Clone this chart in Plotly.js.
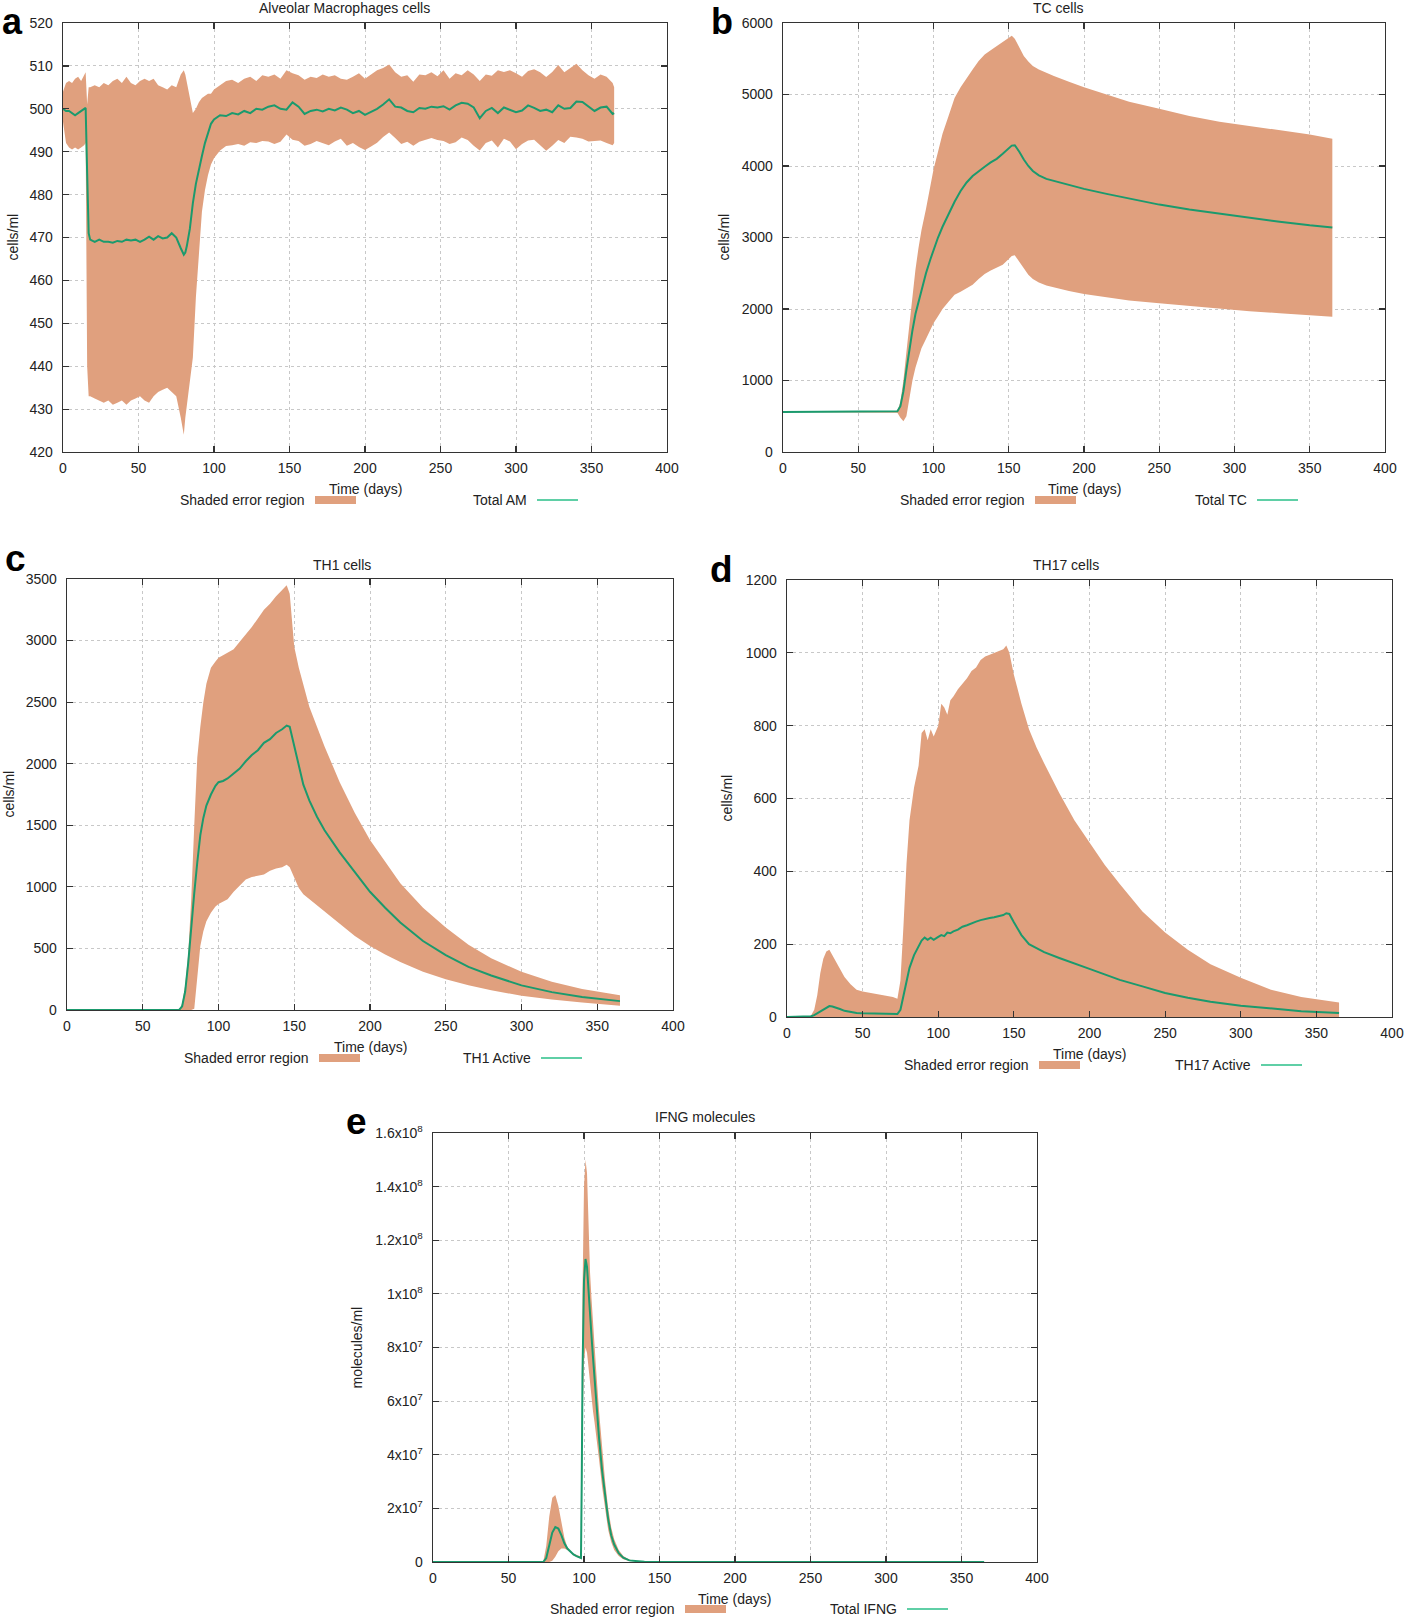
<!DOCTYPE html>
<html><head><meta charset="utf-8">
<script src="https://cdn.plot.ly/plotly-3.0.1.min.js"></script>
<style>html,body{margin:0;padding:0;background:#fff}#chart{width:1416px;height:1619px}</style>
</head><body><div id="chart"></div>
<script>
// ---------- Panel a: Alveolar Macrophages ----------
const amDays = [0,2,4,6,8,10,12,14,15,16,17,
 18,21,24,27,30,33,36,39,42,45,48,51,54,57,60,63,66,69,72,75,78,
 80,81,82,84,86,88,90,92,94,96,98,100,
 104,108,112,116,120,124,128,132,136,140,144,148,152,156,160,164,168,172,176,180,184,188,192,196,200,204,208,212,216,220,224,228,232,236,240,244,248,252,256,260,264,268,272,276,280,284,288,292,296,300,304,308,312,316,320,324,328,332,336,340,344,348,352,356,360,364,365];
const amMean = [500,499.5,499.5,499,498.5,499,499.5,500,500.2,485,471,
 469.5,469,469.5,469,469,468.8,469.2,469,469.5,469.3,469.5,469,469.5,470.2,469.5,470.3,469.8,470,471,470,467.5,
 466,466.5,468,472,478,482.5,486,489,492,494.5,496.5,497.5,
 498.5,498.3,499,498.7,499.5,499,500,499.8,500.5,500.8,500,499.8,501.5,500.5,498.8,499.5,499.8,499.4,500,499.6,500.3,499.8,499,499.5,498.6,499.3,500,501,502.2,500.5,500.3,499.5,499.2,500.2,500,500.5,500.3,500.6,499.8,500.8,501.4,501.2,500.3,497.8,499.5,500.2,499,500.3,499.8,499.2,499.6,500.8,500.2,499.5,499.8,499.2,500.8,500,500.2,501.7,501.6,500.6,499.5,500.3,500.5,498.8,499];
const amUpper = [504,506,506.5,506,507,507.5,506.5,508,508.5,501,505,
 505,505.5,505,506,505.5,506.5,507,506,507.5,506,505.5,506.5,507,506.5,507,505.5,505,504.5,505.5,505,508,
 509,508,506,502,499,500,501.5,502.5,503,503.5,503.5,504.5,
 505.5,506.5,506.8,506,507,507.5,506.5,507.8,507.5,508,507,509,508.3,507.8,506.8,507.5,507.2,508,507.5,507.8,507,506.8,507.5,508.3,507,508,509,509.5,510.3,508.5,507.5,507.8,506.3,508,507.8,508.5,507.6,509,507,508.3,507.8,509,508,506.5,508,507.7,509,508.6,509,508.3,507.5,508.8,509.2,508.5,507.4,508.6,510.2,508.5,509.5,510.5,509,507.8,507,508,507.5,506,505];
const amLower = [497,492,491,490.5,491,490.5,491,491.5,492,440,433,
 433,432.5,432,431.5,432,431,431.5,432,431,432,432.5,433,432,431.5,433,434,434.5,435,434,433,428,
 424,428,431,436,442,456,467,476,481,484.5,487,488.5,
 490.3,491.3,491.5,491.8,491.4,492.2,492,492.5,492.4,491.8,492.3,494,492.8,492.5,491.4,491.8,492.5,492,491.5,492.4,493,491.4,492,491.1,490.4,491.2,492.1,493.4,494.5,493.2,491.8,492.3,491.4,492.3,492.8,493.2,492.7,492.5,491.8,492.2,493.3,492.7,491.4,490.3,492,492.6,491,493,492.4,490.6,491.8,492.6,492.8,491.5,490.2,491.4,492.7,492,493.5,493.3,493,492.4,492.5,492.6,492,491.5,492];

// ---------- Panel b: TC cells ----------
const tcDays = [0,25,50,75,76,78,80,82,84,86,88,90,92,95,98,100,103,106,110,114,118,122,126,130,134,138,142,146,150,152,154,157,160,163,166,170,175,180,190,200,215,230,250,270,290,310,330,350,365];
const tcMean = [560,560,560,560,570,640,850,1150,1450,1700,1930,2100,2250,2500,2700,2830,3000,3150,3330,3500,3650,3770,3860,3930,3990,4050,4100,4170,4250,4285,4290,4200,4090,4000,3930,3870,3820,3790,3740,3680,3610,3545,3460,3390,3330,3270,3220,3170,3140];
const tcUpper = [560,560,560,560,570,700,1000,1400,1800,2200,2550,2850,3100,3400,3750,3950,4200,4450,4700,4950,5100,5230,5350,5470,5560,5620,5680,5730,5790,5820,5780,5650,5540,5460,5400,5350,5300,5260,5180,5100,5000,4900,4800,4700,4620,4560,4500,4440,4380];
const tcLower = [560,560,560,560,550,480,430,500,750,1000,1180,1330,1450,1580,1720,1800,1900,2000,2100,2200,2240,2290,2340,2420,2490,2540,2580,2620,2700,2740,2750,2660,2570,2480,2420,2370,2330,2300,2250,2210,2160,2120,2080,2040,2010,1970,1940,1910,1890];

// ---------- Panel c: TH1 cells ----------
const th1Days = [0,50,74,76,78,80,82,84,86,88,90,92,95,98,100,103,106,110,114,118,122,126,130,134,138,142,145,147,150,153,156,160,165,170,180,190,200,210,220,235,250,265,280,300,320,340,365];
const th1Mean = [0,0,0,30,150,380,700,950,1200,1420,1560,1660,1750,1820,1850,1860,1880,1920,1960,2020,2070,2110,2170,2200,2250,2280,2310,2300,2150,1980,1830,1700,1570,1460,1280,1120,960,830,710,560,445,350,280,200,145,105,72];
const th1Upper = [0,0,0,50,200,450,900,1500,2050,2300,2500,2650,2780,2830,2860,2880,2900,2930,2990,3050,3110,3180,3250,3300,3360,3410,3450,3380,2950,2780,2640,2460,2300,2140,1850,1600,1380,1200,1030,830,670,530,420,310,230,170,120];
const th1Lower = [0,0,0,0,0,0,0,10,300,520,640,720,790,840,860,880,900,960,1010,1060,1080,1090,1100,1130,1150,1160,1180,1160,1070,990,940,900,850,800,700,600,520,450,390,310,250,200,160,115,85,60,35];

// ---------- Panel d: TH17 cells (lower bound at 0) ----------
const th17Days = [0,14,16,18,20,22,24,26,28,30,32,35,38,42,46,50,55,60,65,70,73,75,77,79,81,84,87,89,91,93,95,97,100,102,104,106,108,110,113,116,119,122,125,128,131,134,137,140,143,145,147,150,155,160,165,170,180,190,200,210,220,235,250,265,280,300,320,340,365];
const th17Mean = [0,0,2,5,10,15,20,26,30,29,27,22,17,13,11,10,10,9,8,8,8,20,60,100,135,170,195,210,218,212,218,212,220,225,222,232,230,235,240,248,252,258,262,266,270,272,274,278,280,285,283,260,225,200,188,178,162,146,132,117,102,84,66,53,42,31,23,16,11];
const th17Upper = [0,0,5,20,60,120,160,180,185,170,155,130,110,90,75,70,66,63,60,55,50,100,250,420,540,630,690,780,790,760,790,770,800,860,850,830,870,880,900,915,930,950,960,980,990,995,1000,1005,1010,1020,1000,940,860,790,740,697,615,540,478,418,365,290,232,185,145,108,75,55,40];

// ---------- Panel e: IFNG molecules ----------
const ifngDays = [0,50,73,75,77,79,81,83,85,87,89,91,93,95,97,98,98.5,99,100,101,102,103,104,105,106,107,108,110,112,114,116,118,120,123,126,130,135,140,150,200,300,365];
const ifngMean = [0,0,0,1.5e6,6e6,1.1e7,1.3e7,1.25e7,1e7,7e6,5e6,3.8e6,2.8e6,2.2e6,1.7e6,1.5e6,3e7,7e7,1.05e8,1.13e8,1.1e8,1e8,9.2e7,8.4e7,7.6e7,6.8e7,6e7,4.6e7,3.4e7,2.4e7,1.6e7,1e7,6.5e6,3.3e6,1.6e6,6e5,2e5,5e4,0,0,0,0];
const ifngUpper = [0,0,0,6e6,1.7e7,2.4e7,2.5e7,2.1e7,1.5e7,9e6,5.5e6,4e6,3.2e6,2.6e6,2.2e6,2e6,4e7,1e8,1.4e8,1.5e8,1.45e8,1.25e8,1.08e8,9.8e7,8.8e7,8e7,7.2e7,5.6e7,4.2e7,3e7,2e7,1.3e7,8.5e6,4.5e6,2.2e6,9e5,3e5,1e5,0,0,0,0];
const ifngLower = [0,0,0,0,0,5e5,2e6,4e6,5e6,5e6,4.5e6,3.5e6,2.5e6,2e6,1.5e6,1.2e6,2e7,5e7,7.5e7,8e7,7.8e7,7.2e7,6.6e7,6e7,5.6e7,5.2e7,4.8e7,3.8e7,2.8e7,1.9e7,1.2e7,7.5e6,4.5e6,2.2e6,1e6,4e5,1e5,0,0,0,0,0];

// ---------- Tick labels ----------
const xTicks = [0,50,100,150,200,250,300,350,400];
const ifngTickVals = [0,2e7,4e7,6e7,8e7,1e8,1.2e8,1.4e8,1.6e8];
const ifngTickText = ['0','2x10<sup>7</sup>','4x10<sup>7</sup>','6x10<sup>7</sup>','8x10<sup>7</sup>','1x10<sup>8</sup>','1.2x10<sup>8</sup>','1.4x10<sup>8</sup>','1.6x10<sup>8</sup>'];

// ---------- Layout helpers ----------
const W = 1416, H = 1619;
const FILL = '#e0a07e', LINE = '#1b9a6d', LEGLINE = '#5fcfa6';
const FONT = 'Liberation Sans, Arial, Helvetica, sans-serif';
const px = v => v / W, py = v => 1 - v / H;

const panels = [
  {k:'', letter:'a', title:'Alveolar Macrophages cells', ytitle:'cells/ml', lineName:'Total AM',
   box:[63,667,23,452], titleXY:[344,8], letterXY:[12,0], letterTop:true, ytitleX:12, timeY:489, legY:500,
   x:amDays, lo:amLower, up:amUpper, mean:amMean, yr:[420,520], dtick:10},
  {k:'2', letter:'b', title:'TC cells', ytitle:'cells/ml', lineName:'Total TC',
   box:[783,1385,23,452], titleXY:[1058,8], letterXY:[722,0], letterTop:true, ytitleX:723, timeY:489, legY:500,
   x:tcDays, lo:tcLower, up:tcUpper, mean:tcMean, yr:[0,6000], dtick:1000},
  {k:'3', letter:'c', title:'TH1 cells', ytitle:'cells/ml', lineName:'TH1 Active',
   box:[67,673,579,1010], titleXY:[342,565], letterXY:[15,559], ytitleX:8, timeY:1047, legY:1058,
   x:th1Days, lo:th1Lower, up:th1Upper, mean:th1Mean, yr:[0,3500], dtick:500},
  {k:'4', letter:'d', title:'TH17 cells', ytitle:'cells/ml', lineName:'TH17 Active',
   box:[787,1392,580,1017], titleXY:[1066,565], letterXY:[721,569], ytitleX:726, timeY:1054, legY:1065,
   x:th17Days, lo:null, up:th17Upper, mean:th17Mean, yr:[0,1200], dtick:200},
  {k:'5', letter:'e', title:'IFNG molecules', ytitle:'molecules/ml', lineName:'Total IFNG',
   box:[433,1037,1133,1562], titleXY:[705,1117], letterXY:[356,1121], ytitleX:356, timeY:1599, legY:1609,
   x:ifngDays, lo:ifngLower, up:ifngUpper, mean:ifngMean, yr:[0,1.6e8], tickvals:ifngTickVals, ticktext:ifngTickText}
];

const traces = [];
const layout = {
  width: W, height: H, margin:{l:0,r:0,t:0,b:0},
  paper_bgcolor:'#fff', plot_bgcolor:'#fff', showlegend:false,
  font:{family:FONT, size:14, color:'#222'},
  annotations:[], shapes:[]
};

const axBase = {
  showline:true, linecolor:'#333', linewidth:1.4, mirror:'allticks',
  ticks:'inside', ticklen:6, tickwidth:1.2, tickcolor:'#333',
  showgrid:true, gridcolor:'#c8c8c8', griddash:'dot', gridwidth:1,
  zeroline:false, fixedrange:true,
  tickfont:{family:FONT, size:14, color:'#222'}
};

panels.forEach(p => {
  const xa = 'x' + p.k, ya = 'y' + p.k;
  const [L, R, T, B] = p.box;
  if (p.lo) {
    traces.push({x:p.x, y:p.lo, xaxis:xa, yaxis:ya, mode:'lines', line:{width:0, color:FILL}, hoverinfo:'skip'});
    traces.push({x:p.x, y:p.up, xaxis:xa, yaxis:ya, mode:'lines', line:{width:0, color:FILL}, fill:'tonexty', fillcolor:FILL, hoverinfo:'skip'});
  } else {
    traces.push({x:p.x, y:p.up, xaxis:xa, yaxis:ya, mode:'lines', line:{width:0, color:FILL}, fill:'tozeroy', fillcolor:FILL, hoverinfo:'skip'});
  }
  traces.push({x:p.x, y:p.mean, xaxis:xa, yaxis:ya, mode:'lines', line:{width:2, color:LINE}, hoverinfo:'skip'});

  layout['xaxis' + p.k] = Object.assign({}, axBase, {
    domain:[px(L), px(R)], anchor:ya, range:[0,400], tickvals:xTicks, ticklabelstandoff:3
  });
  const yax = Object.assign({}, axBase, {domain:[py(B), py(T)], anchor:xa, range:p.yr, ticklabelstandoff:6});
  if (p.tickvals) { yax.tickvals = p.tickvals; yax.ticktext = p.ticktext; yax.tickmode = 'array'; }
  else { yax.tickmode = 'linear'; yax.tick0 = p.yr[0]; yax.dtick = p.dtick; }
  layout['yaxis' + p.k] = yax;

  const cx = (L + R) / 2;
  const ann = layout.annotations;
  ann.push({text:p.title, xref:'paper', yref:'paper', x:px(p.titleXY[0]), y:py(p.titleXY[1]), xanchor:'center', yanchor:'middle', showarrow:false, font:{size:14}});
  if (p.letterTop) {
    ann.push({text:'<b>' + p.letter + '</b>', xref:'paper', yref:'paper', x:px(p.letterXY[0]), y:1, xanchor:'center', yanchor:'top', showarrow:false, borderpad:0, font:{size:36, color:'#000'}});
  } else {
    ann.push({text:'<b>' + p.letter + '</b>', xref:'paper', yref:'paper', x:px(p.letterXY[0]), y:py(p.letterXY[1]), xanchor:'center', yanchor:'middle', showarrow:false, font:{size:37, color:'#000'}});
  }
  ann.push({text:p.ytitle, xref:'paper', yref:'paper', x:px(p.ytitleX), y:py((T + B) / 2), xanchor:'center', yanchor:'middle', textangle:-90, showarrow:false, font:{size:14}});
  ann.push({text:'Time (days)', xref:'paper', yref:'paper', x:px(cx), y:py(p.timeY), xanchor:'center', yanchor:'middle', showarrow:false, font:{size:14}});
  ann.push({text:'Shaded error region', xref:'paper', yref:'paper', x:px(L + 244), y:py(p.legY), xanchor:'right', yanchor:'middle', showarrow:false, font:{size:14}});
  ann.push({text:p.lineName, xref:'paper', yref:'paper', x:px(L + 466), y:py(p.legY), xanchor:'right', yanchor:'middle', showarrow:false, font:{size:14}});
  layout.shapes.push({type:'rect', xref:'paper', yref:'paper', x0:px(L + 252), x1:px(L + 293), y0:py(p.legY + 4), y1:py(p.legY - 4), fillcolor:FILL, line:{width:0}});
  layout.shapes.push({type:'line', xref:'paper', yref:'paper', x0:px(L + 474), x1:px(L + 515), y0:py(p.legY), y1:py(p.legY), line:{color:LEGLINE, width:2}});
});

Plotly.newPlot('chart', traces, layout, {displayModeBar:false, staticPlot:true});
</script>
</body></html>
